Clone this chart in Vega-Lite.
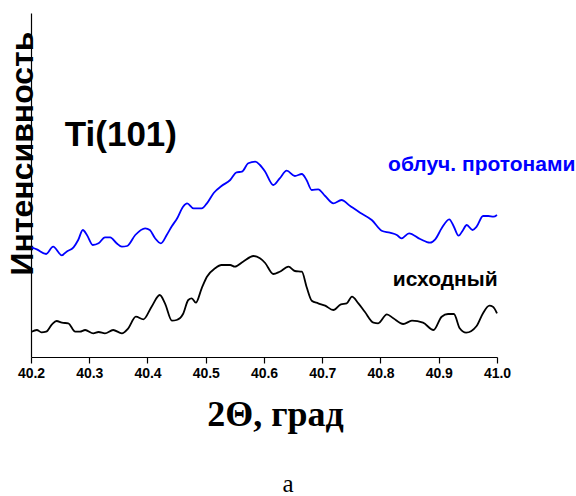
{
  "$schema": "https://vega.github.io/schema/vega-lite/v6.json",
  "autosize": {"type": "none"},
  "padding": {"left": 31, "top": 13, "right": 79, "bottom": 139},
  "width": 466,
  "height": 344,
  "config": {"view": {"stroke": null}, "font": "Liberation Sans"},
  "title": {"text": "а", "orient": "bottom", "anchor": "middle", "font": "Liberation Serif", "fontSize": 25, "fontWeight": "normal", "color": "#000", "offset": 40, "dx": 24},
  "datasets": {
    "curves": [
      {"angle": 40.201, "intensity": 109.7, "series": "irradiated"},
      {"angle": 40.210, "intensity": 107.7, "series": "irradiated"},
      {"angle": 40.226, "intensity": 103.0, "series": "irradiated"},
      {"angle": 40.238, "intensity": 110.3, "series": "irradiated"},
      {"angle": 40.253, "intensity": 101.7, "series": "irradiated"},
      {"angle": 40.261, "intensity": 105.3, "series": "irradiated"},
      {"angle": 40.273, "intensity": 109.7, "series": "irradiated"},
      {"angle": 40.281, "intensity": 117.0, "series": "irradiated"},
      {"angle": 40.289, "intensity": 127.0, "series": "irradiated"},
      {"angle": 40.296, "intensity": 122.0, "series": "irradiated"},
      {"angle": 40.306, "intensity": 112.0, "series": "irradiated"},
      {"angle": 40.316, "intensity": 113.7, "series": "irradiated"},
      {"angle": 40.327, "intensity": 119.7, "series": "irradiated"},
      {"angle": 40.336, "intensity": 119.7, "series": "irradiated"},
      {"angle": 40.347, "intensity": 113.7, "series": "irradiated"},
      {"angle": 40.356, "intensity": 110.3, "series": "irradiated"},
      {"angle": 40.365, "intensity": 111.0, "series": "irradiated"},
      {"angle": 40.379, "intensity": 122.0, "series": "irradiated"},
      {"angle": 40.396, "intensity": 128.7, "series": "irradiated"},
      {"angle": 40.404, "intensity": 127.0, "series": "irradiated"},
      {"angle": 40.413, "intensity": 118.7, "series": "irradiated"},
      {"angle": 40.423, "intensity": 113.7, "series": "irradiated"},
      {"angle": 40.433, "intensity": 122.0, "series": "irradiated"},
      {"angle": 40.442, "intensity": 131.0, "series": "irradiated"},
      {"angle": 40.451, "intensity": 138.7, "series": "irradiated"},
      {"angle": 40.461, "intensity": 150.3, "series": "irradiated"},
      {"angle": 40.468, "intensity": 153.7, "series": "irradiated"},
      {"angle": 40.479, "intensity": 148.7, "series": "irradiated"},
      {"angle": 40.493, "intensity": 148.7, "series": "irradiated"},
      {"angle": 40.502, "intensity": 153.7, "series": "irradiated"},
      {"angle": 40.514, "intensity": 164.3, "series": "irradiated"},
      {"angle": 40.527, "intensity": 171.0, "series": "irradiated"},
      {"angle": 40.542, "intensity": 177.0, "series": "irradiated"},
      {"angle": 40.553, "intensity": 184.7, "series": "irradiated"},
      {"angle": 40.562, "intensity": 185.3, "series": "irradiated"},
      {"angle": 40.573, "intensity": 193.7, "series": "irradiated"},
      {"angle": 40.585, "intensity": 195.3, "series": "irradiated"},
      {"angle": 40.593, "intensity": 192.0, "series": "irradiated"},
      {"angle": 40.602, "intensity": 185.3, "series": "irradiated"},
      {"angle": 40.616, "intensity": 172.0, "series": "irradiated"},
      {"angle": 40.627, "intensity": 178.7, "series": "irradiated"},
      {"angle": 40.639, "intensity": 186.3, "series": "irradiated"},
      {"angle": 40.653, "intensity": 181.0, "series": "irradiated"},
      {"angle": 40.665, "intensity": 183.0, "series": "irradiated"},
      {"angle": 40.673, "intensity": 177.0, "series": "irradiated"},
      {"angle": 40.682, "intensity": 167.0, "series": "irradiated"},
      {"angle": 40.693, "intensity": 167.7, "series": "irradiated"},
      {"angle": 40.705, "intensity": 161.0, "series": "irradiated"},
      {"angle": 40.719, "intensity": 153.7, "series": "irradiated"},
      {"angle": 40.733, "intensity": 157.0, "series": "irradiated"},
      {"angle": 40.748, "intensity": 151.0, "series": "irradiated"},
      {"angle": 40.765, "intensity": 144.3, "series": "irradiated"},
      {"angle": 40.785, "intensity": 137.0, "series": "irradiated"},
      {"angle": 40.802, "intensity": 126.3, "series": "irradiated"},
      {"angle": 40.816, "intensity": 124.3, "series": "irradiated"},
      {"angle": 40.828, "intensity": 122.0, "series": "irradiated"},
      {"angle": 40.836, "intensity": 118.7, "series": "irradiated"},
      {"angle": 40.849, "intensity": 123.7, "series": "irradiated"},
      {"angle": 40.868, "intensity": 118.0, "series": "irradiated"},
      {"angle": 40.885, "intensity": 114.3, "series": "irradiated"},
      {"angle": 40.894, "intensity": 117.7, "series": "irradiated"},
      {"angle": 40.905, "intensity": 128.7, "series": "irradiated"},
      {"angle": 40.918, "intensity": 137.7, "series": "irradiated"},
      {"angle": 40.926, "intensity": 130.3, "series": "irradiated"},
      {"angle": 40.934, "intensity": 121.3, "series": "irradiated"},
      {"angle": 40.941, "intensity": 126.3, "series": "irradiated"},
      {"angle": 40.948, "intensity": 132.0, "series": "irradiated"},
      {"angle": 40.958, "intensity": 127.0, "series": "irradiated"},
      {"angle": 40.965, "intensity": 130.3, "series": "irradiated"},
      {"angle": 40.976, "intensity": 141.0, "series": "irradiated"},
      {"angle": 40.985, "intensity": 141.0, "series": "irradiated"},
      {"angle": 40.994, "intensity": 140.3, "series": "irradiated"},
      {"angle": 41.000, "intensity": 142.0, "series": "irradiated"},
      {"angle": 40.201, "intensity": 25.3, "series": "original"},
      {"angle": 40.210, "intensity": 27.0, "series": "original"},
      {"angle": 40.218, "intensity": 24.7, "series": "original"},
      {"angle": 40.226, "intensity": 25.3, "series": "original"},
      {"angle": 40.236, "intensity": 32.7, "series": "original"},
      {"angle": 40.244, "intensity": 36.0, "series": "original"},
      {"angle": 40.253, "intensity": 34.3, "series": "original"},
      {"angle": 40.264, "intensity": 33.7, "series": "original"},
      {"angle": 40.276, "intensity": 25.3, "series": "original"},
      {"angle": 40.284, "intensity": 25.3, "series": "original"},
      {"angle": 40.293, "intensity": 27.0, "series": "original"},
      {"angle": 40.307, "intensity": 23.7, "series": "original"},
      {"angle": 40.316, "intensity": 25.0, "series": "original"},
      {"angle": 40.327, "intensity": 23.7, "series": "original"},
      {"angle": 40.341, "intensity": 27.0, "series": "original"},
      {"angle": 40.356, "intensity": 23.7, "series": "original"},
      {"angle": 40.367, "intensity": 28.7, "series": "original"},
      {"angle": 40.380, "intensity": 40.3, "series": "original"},
      {"angle": 40.393, "intensity": 37.7, "series": "original"},
      {"angle": 40.407, "intensity": 50.3, "series": "original"},
      {"angle": 40.421, "intensity": 62.0, "series": "original"},
      {"angle": 40.430, "intensity": 53.7, "series": "original"},
      {"angle": 40.442, "intensity": 36.3, "series": "original"},
      {"angle": 40.450, "intensity": 37.0, "series": "original"},
      {"angle": 40.461, "intensity": 43.0, "series": "original"},
      {"angle": 40.470, "intensity": 57.0, "series": "original"},
      {"angle": 40.476, "intensity": 58.7, "series": "original"},
      {"angle": 40.483, "intensity": 54.3, "series": "original"},
      {"angle": 40.493, "intensity": 68.7, "series": "original"},
      {"angle": 40.502, "intensity": 80.3, "series": "original"},
      {"angle": 40.516, "intensity": 88.7, "series": "original"},
      {"angle": 40.527, "intensity": 92.0, "series": "original"},
      {"angle": 40.542, "intensity": 92.0, "series": "original"},
      {"angle": 40.550, "intensity": 90.3, "series": "original"},
      {"angle": 40.564, "intensity": 95.3, "series": "original"},
      {"angle": 40.582, "intensity": 101.0, "series": "original"},
      {"angle": 40.593, "intensity": 98.7, "series": "original"},
      {"angle": 40.602, "intensity": 94.0, "series": "original"},
      {"angle": 40.616, "intensity": 83.0, "series": "original"},
      {"angle": 40.627, "intensity": 85.3, "series": "original"},
      {"angle": 40.642, "intensity": 90.3, "series": "original"},
      {"angle": 40.653, "intensity": 86.0, "series": "original"},
      {"angle": 40.665, "intensity": 85.3, "series": "original"},
      {"angle": 40.673, "intensity": 70.3, "series": "original"},
      {"angle": 40.682, "intensity": 56.3, "series": "original"},
      {"angle": 40.693, "intensity": 53.7, "series": "original"},
      {"angle": 40.705, "intensity": 51.3, "series": "original"},
      {"angle": 40.719, "intensity": 47.0, "series": "original"},
      {"angle": 40.732, "intensity": 52.7, "series": "original"},
      {"angle": 40.742, "intensity": 53.7, "series": "original"},
      {"angle": 40.751, "intensity": 60.3, "series": "original"},
      {"angle": 40.762, "intensity": 53.7, "series": "original"},
      {"angle": 40.773, "intensity": 45.3, "series": "original"},
      {"angle": 40.788, "intensity": 34.3, "series": "original"},
      {"angle": 40.796, "intensity": 33.7, "series": "original"},
      {"angle": 40.811, "intensity": 42.7, "series": "original"},
      {"angle": 40.822, "intensity": 38.7, "series": "original"},
      {"angle": 40.839, "intensity": 33.0, "series": "original"},
      {"angle": 40.854, "intensity": 36.3, "series": "original"},
      {"angle": 40.873, "intensity": 34.3, "series": "original"},
      {"angle": 40.891, "intensity": 27.0, "series": "original"},
      {"angle": 40.905, "intensity": 40.3, "series": "original"},
      {"angle": 40.916, "intensity": 43.0, "series": "original"},
      {"angle": 40.926, "intensity": 43.0, "series": "original"},
      {"angle": 40.936, "intensity": 28.7, "series": "original"},
      {"angle": 40.947, "intensity": 24.3, "series": "original"},
      {"angle": 40.965, "intensity": 31.0, "series": "original"},
      {"angle": 40.976, "intensity": 43.7, "series": "original"},
      {"angle": 40.987, "intensity": 51.3, "series": "original"},
      {"angle": 40.993, "intensity": 50.3, "series": "original"},
      {"angle": 41.000, "intensity": 43.7, "series": "original"}
    ],
    "labels": [
      {"label": "Ti(101)", "angle": 40.258, "intensity": 211, "series": "title"},
      {"label": "облуч. протонами", "angle": 40.813, "intensity": 186, "series": "irradiated"},
      {"label": "исходный", "angle": 40.821, "intensity": 71, "series": "original"}
    ]
  },
  "layer": [
    {
      "data": {"name": "curves"},
      "mark": {"type": "line", "interpolate": "monotone", "strokeWidth": 1.8},
      "encoding": {
        "x": {
          "field": "angle", "type": "quantitative",
          "scale": {"domain": [40.2, 41.0], "nice": false, "zero": false},
          "axis": {
            "title": "2Θ, град",
            "titleFont": "Liberation Serif", "titleFontSize": 36, "titleFontWeight": "bold", "titleColor": "#000",
            "titleX": 244, "titleY": 68, "titleBaseline": "alphabetic", "titleAlign": "center",
            "values": [40.2, 40.25, 40.3, 40.35, 40.4, 40.45, 40.5, 40.55, 40.6, 40.65, 40.7, 40.75, 40.8, 40.85, 40.9, 40.95, 41.0],
            "labelExpr": "round(datum.value * 100) % 10 == 0 ? format(datum.value, '.1f') : ''",
            "labelFont": "Liberation Sans", "labelFontSize": 14, "labelFontWeight": "bold", "labelColor": "#000",
            "labelPadding": 3, "labelFlush": false, "labelOverlap": false,
            "tickColor": "#000", "tickWidth": 1.2,
            "tickSize": {"condition": {"test": "round(datum.value * 100) % 10 == 0", "value": 6}, "value": 4},
            "domainColor": "#000", "domainWidth": 1.2, "grid": false
          }
        },
        "y": {
          "field": "intensity", "type": "quantitative",
          "scale": {"domain": [0, 344], "nice": false},
          "axis": {
            "title": "Интенсивность",
            "titleFont": "Liberation Sans", "titleFontSize": 32, "titleFontWeight": "bold", "titleColor": "#000",
            "titleAngle": -90, "titleX": 1, "titleY": 140, "titleAlign": "center", "titleBaseline": "alphabetic",
            "labels": false, "ticks": false, "grid": false,
            "domainColor": "#000", "domainWidth": 1.2
          }
        },
        "color": {
          "field": "series", "type": "nominal",
          "scale": {"domain": ["irradiated", "original", "title"], "range": ["#0000ff", "#000000", "#000000"]},
          "legend": null
        },
        "detail": {"field": "series"}
      }
    },
    {
      "data": {"name": "labels"},
      "transform": [{"filter": "datum.series == 'title'"}],
      "mark": {"type": "text", "font": "Liberation Sans", "fontSize": 35, "fontWeight": "bold", "align": "left", "baseline": "alphabetic"},
      "encoding": {
        "x": {"field": "angle", "type": "quantitative"},
        "y": {"field": "intensity", "type": "quantitative"},
        "text": {"field": "label"},
        "color": {"field": "series", "type": "nominal", "legend": null}
      }
    },
    {
      "data": {"name": "labels"},
      "transform": [{"filter": "datum.series != 'title'"}],
      "mark": {"type": "text", "font": "Liberation Sans", "fontSize": 21, "fontWeight": "bold", "align": "left", "baseline": "alphabetic"},
      "encoding": {
        "x": {"field": "angle", "type": "quantitative"},
        "y": {"field": "intensity", "type": "quantitative"},
        "text": {"field": "label"},
        "color": {"field": "series", "type": "nominal", "legend": null}
      }
    }
  ]
}
